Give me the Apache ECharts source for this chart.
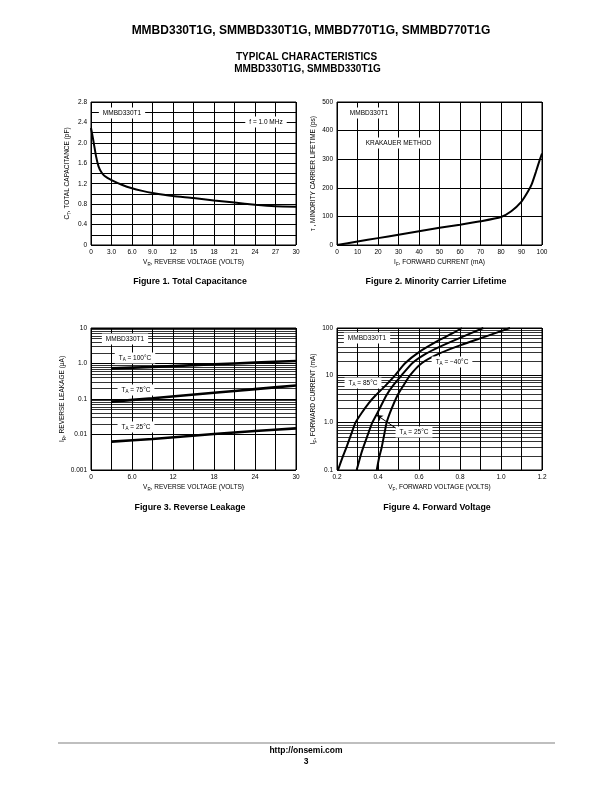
<!DOCTYPE html>
<html><head><meta charset="utf-8">
<script src="https://cdn.jsdelivr.net/npm/echarts@6/dist/echarts.min.js"></script>
<style>html,body{margin:0;padding:0;background:#fff}#c{width:612px;height:792px}</style>
</head><body><div id="c"></div>
<script>
// Figure 1: total capacitance
const capV = [0,0.2,0.4,0.75,1.1,1.5,2,3,4.5,6,7.5,9,12,15,18,21,24,27,30];
const capC = [2.29,2.15,2.0,1.73,1.54,1.43,1.35,1.27,1.18,1.11,1.06,1.02,0.96,0.92,0.87,0.83,0.79,0.76,0.75];
// Figure 2: minority carrier lifetime
const lifeI = [0,10,20,30,40,50,60,70,80,85,90,93,95,97,99,100];
const lifeT = [0,12,24,36,48,60,71,83,98,118,152,185,213,255,300,320];
// Figure 3: reverse leakage
const leakV = [3,9,18,24,30];
const leak100 = [0.73,0.8,0.95,1.06,1.18];
const leak75 = [0.084,0.105,0.15,0.19,0.24];
const leak25 = [0.0063,0.0075,0.0103,0.0125,0.0149];
// Figure 4: forward voltage
const fwdV85 = [0.205,0.226,0.246,0.268,0.29,0.32,0.355,0.39,0.44,0.483,0.532,0.6,0.7,0.76,0.81];
const fwdI85 = [0.1,0.18,0.3,0.55,1.0,1.6,2.6,3.84,6.3,10,18,31,56,76,100];
const fwdV25 = [0.296,0.312,0.328,0.35,0.372,0.4,0.442,0.475,0.515,0.567,0.63,0.7,0.8,0.914];
const fwdI25 = [0.1,0.18,0.3,0.55,1.0,1.7,3.84,6.2,10,18,28,40,62,100];
const fwdVm40 = [0.394,0.405,0.418,0.43,0.442,0.465,0.496,0.525,0.556,0.613,0.7,0.8,0.92,1.044];
const fwdIm40 = [0.1,0.18,0.3,0.55,1.0,1.9,3.84,6.2,10,18,29,43,65,100];

const FONT = "'Liberation Sans Narrow','Liberation Sans',Arial,sans-serif";
const BFONT = "'Liberation Sans',Arial,sans-serif";
const zip = (a,b) => a.map((v,i)=>[v,b[i]]);
function logMinors(d0,d1){const out=[];for(let d=d0;d<d1;d++){for(let m=2;m<=9;m++){out.push(Number((m*Math.pow(10,d)).toPrecision(3)));}}return out;}

const rich = {
  n:{fontSize:6.5,fontFamily:FONT,color:'#000',lineHeight:9,verticalAlign:'middle'},
  s:{fontSize:4.5,fontFamily:FONT,color:'#000',lineHeight:9,verticalAlign:'bottom'}
};
const grids = [
  {left:91,top:102,width:205,height:143},
  {left:337,top:102,width:205,height:143},
  {left:91,top:328,width:205,height:142},
  {left:337,top:328,width:205,height:142}
].map(g=>Object.assign({show:true,borderColor:'#000',borderWidth:1,backgroundColor:'#fff'},g));

const baseAxis = {
  axisLine:{show:false}, axisTick:{show:false},
  splitLine:{show:true,lineStyle:{color:'#000',width:1}},
  axisLabel:{color:'#000',fontSize:6.5,fontFamily:FONT,margin:4},
  nameLocation:'middle'
};
function ax(o){const a=JSON.parse(JSON.stringify(baseAxis));Object.assign(a,o);if(o.axisLabel)a.axisLabel=Object.assign({},baseAxis.axisLabel,o.axisLabel);a.nameTextStyle={rich:rich};return a;}
const fmtLog = v => {const x=Number(v.toPrecision(3));return x===1?'1.0':String(x);};

const xAxis = [
  ax({gridIndex:0,type:'value',min:0,max:30,interval:3,name:'{n|V}{s|R}{n|, REVERSE VOLTAGE (VOLTS)}',nameGap:13,
      axisLabel:{formatter:v=>v===0?'0':(v<10?v.toFixed(1):String(v))}}),
  ax({gridIndex:1,type:'value',min:0,max:100,interval:10,name:'{n|I}{s|F}{n|, FORWARD CURRENT (mA)}',nameGap:13}),
  ax({gridIndex:2,type:'value',min:0,max:30,interval:3,name:'{n|V}{s|R}{n|, REVERSE VOLTAGE (VOLTS)}',nameGap:13,
      axisLabel:{formatter:v=>(Math.round(v)%6!==0)?'':(v===0?'0':(v<10?v.toFixed(1):String(v)))}}),
  ax({gridIndex:3,type:'value',min:0.2,max:1.2,interval:0.1,name:'{n|V}{s|F}{n|, FORWARD VOLTAGE (VOLTS)}',nameGap:13,
      axisLabel:{formatter:v=>(Math.round(v*10)%2!==0)?'':v.toFixed(1)}})
];
const yAxis = [
  ax({gridIndex:0,type:'value',min:0,max:2.8,interval:0.2,name:'{n|C}{s|T}{n|, TOTAL CAPACITANCE (pF)}',nameGap:19,
      axisLabel:{formatter:v=>(Math.round(v*10)%4!==0)?'':(v===0?'0':v.toFixed(1))}}),
  ax({gridIndex:1,type:'value',min:0,max:500,interval:100,name:'{n|τ , MINORITY CARRIER LIFETIME (ps)}',nameGap:19}),
  ax({gridIndex:2,type:'log',logBase:10,min:0.001,max:10,name:'{n|I}{s|R}{n|, REVERSE LEAKAGE (μA)}',nameGap:15,
      axisLabel:{formatter:fmtLog}}),
  ax({gridIndex:3,type:'log',logBase:10,min:0.1,max:100,name:'{n|I}{s|F}{n|, FORWARD CURRENT (mA)}',nameGap:19,
      axisLabel:{formatter:fmtLog}})
];

const curve = (xi,data,w) => ({type:'line',xAxisIndex:xi,yAxisIndex:xi,data:data,showSymbol:false,symbol:'none',
  smooth:0.2,lineStyle:{color:'#000',width:w||2},z:5,silent:true});
const minorGrid = (xi,vals) => ({type:'line',xAxisIndex:xi,yAxisIndex:xi,data:[],z:1,silent:true,
  markLine:{silent:true,symbol:['none','none'],label:{show:false},animation:false,
    lineStyle:{color:'#000',width:0.8,type:'solid'},data:vals.map(v=>({yAxis:v}))}});

const series = [
  curve(0,zip(capV,capC),2),
  curve(1,zip(lifeI,lifeT),2),
  minorGrid(2,logMinors(-3,1)),
  curve(2,zip(leakV,leak100),2.6),
  curve(2,zip(leakV,leak75),2.6),
  curve(2,zip(leakV,leak25),2.6),
  minorGrid(3,logMinors(-1,2)),
  curve(3,zip(fwdV85,fwdI85),2),
  Object.assign(curve(3,zip(fwdV25,fwdI25),2),{markLine:{silent:true,symbol:['none','arrow'],symbolSize:[5,6],label:{show:false},
    lineStyle:{color:'#000',width:1,type:'solid'},data:[[{coord:[0.488,0.76]},{coord:[0.394,1.45]}]]}}),
  curve(3,zip(fwdVm40,fwdIm40),2)
];

const tRich = {
  n:{fontSize:6.5,fontFamily:FONT,fill:'#000',lineHeight:9,verticalAlign:'middle'},
  s:{fontSize:4.5,fontFamily:FONT,fill:'#000',lineHeight:9,verticalAlign:'bottom'}
};
function box(text,x,y){return {type:'text',x:x,y:y,z:50,style:{text:text,rich:tRich,align:'center',verticalAlign:'middle',
  backgroundColor:'#fff',padding:[1,4],fill:'#000',font:'6.5px '+FONT}};}
function txt(text,x,y,size,bold){return {type:'text',x:x,y:y,z:50,style:{text:text,align:'center',verticalAlign:'middle',fill:'#000',
  font:(bold?'bold ':'')+size+'px '+BFONT}};}

const graphic = [
  txt('MMBD330T1G, SMMBD330T1G, MMBD770T1G, SMMBD770T1G',311,31,12,true),
  txt('TYPICAL CHARACTERISTICS',306.5,57,10,true),
  txt('MMBD330T1G, SMMBD330T1G',307.5,69,10,true),
  txt('Figure 1. Total Capacitance',190,282,8.8,true),
  txt('Figure 2. Minority Carrier Lifetime',436,282,8.8,true),
  txt('Figure 3. Reverse Leakage',190,508,8.8,true),
  txt('Figure 4. Forward Voltage',437,508,8.8,true),
  {type:'line',z:50,shape:{x1:58,y1:743,x2:555,y2:743},style:{stroke:'#aaa',lineWidth:1.5}},
  txt('http://onsemi.com',306,751,8.5,true),
  txt('3',306,762,8.5,true),
  box('{n|MMBD330T1}',122,113),
  box('{n|f = 1.0 MHz}',266,122),
  box('{n|MMBD330T1}',369,113),
  box('{n|KRAKAUER METHOD}',398.5,143),
  box('{n|MMBD330T1}',125,339),
  box('{n|T}{s|A}{n| = 100°C}',135,358),
  box('{n|T}{s|A}{n| = 75°C}',136,390),
  box('{n|T}{s|A}{n| = 25°C}',136,427),
  box('{n|MMBD330T1}',367,338),
  box('{n|T}{s|A}{n| = 85°C}',363,383),
  box('{n|T}{s|A}{n| = −40°C}',452,362),
  box('{n|T}{s|A}{n| = 25°C}',414,432)
];

const chart = echarts.init(document.getElementById('c'),null,{renderer:'canvas'});
chart.setOption({animation:false,backgroundColor:'#fff',grid:grids,xAxis:xAxis,yAxis:yAxis,series:series,graphic:graphic});
</script></body></html>
